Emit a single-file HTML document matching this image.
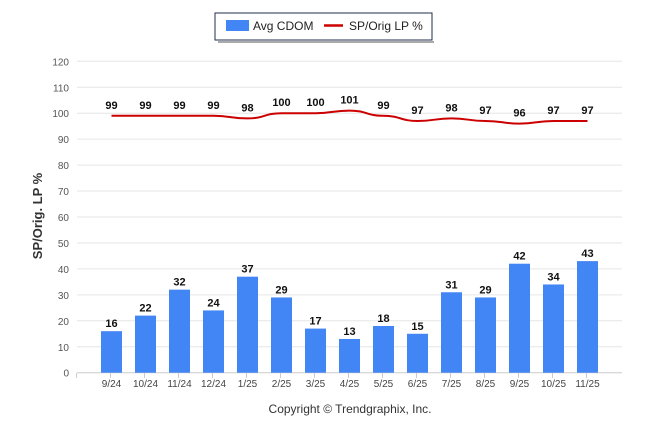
<!DOCTYPE html>
<html><head><meta charset="utf-8"><style>
body{margin:0;background:#fff;font-family:"Liberation Sans",sans-serif;}
svg text{font-family:"Liberation Sans",sans-serif;}
</style></head><body>
<svg id="chart" width="646" height="434">
<rect x="215" y="13" width="217" height="27" fill="#fff" stroke="#1f2d4d" stroke-width="1"/>
<line x1="218" y1="42" x2="434" y2="42" stroke="#aaa" stroke-width="2"/>
<rect x="226" y="20" width="23" height="11" fill="#4285f4"/>
<text x="253" y="30" font-size="12" fill="#222">Avg CDOM</text>
<line x1="324" y1="25.5" x2="343" y2="25.5" stroke="#c00" stroke-width="2.5"/>
<text x="349" y="30" font-size="12" fill="#222">SP/Orig LP %</text>
<text transform="translate(42,216) rotate(-90)" text-anchor="middle" font-size="13" font-weight="bold" fill="#333">SP/Orig. LP %</text>
<text x="350" y="413" text-anchor="middle" font-size="12" fill="#333">Copyright © Trendgraphix, Inc.</text>
<g id="g"></g>
</svg>
<script>
const categories=["9/24","10/24","11/24","12/24","1/25","2/25","3/25","4/25","5/25","6/25","7/25","8/25","9/25","10/25","11/25"];
const cdom=[16,22,32,24,37,29,17,13,18,15,31,29,42,34,43];
const sp=[99,99,99,99,98,100,100,101,99,97,98,97,96,97,97];
const ticks=[0,10,20,30,40,50,60,70,80,90,100,110,120];
const NS="http://www.w3.org/2000/svg";
const g=document.getElementById('g');
const y=v=>372.7-v*(311.4/120);
const x=i=>111.5+34*i;
function mk(t,a){const e=document.createElementNS(NS,t);for(const k in a)e.setAttribute(k,a[k]);g.appendChild(e);return e;}
ticks.forEach(t=>{
 const l=mk('line',{x1:77,x2:622,y1:y(t),y2:y(t),stroke:t==0?'#ccc':'#e6e6e6','stroke-width':1});
 
 
 const tx=mk('text',{x:69,y:y(t)+4,'text-anchor':'end','font-size':10,fill:'#555'});
 tx.textContent=t;
 
 
});
for(let i=0;i<=categories.length;i++){mk('line',{x1:77+34*i-0.5+17-17,x2:77+34*i-0.5,y1:373,y2:378,stroke:'#ccc'});}
categories.forEach((c,i)=>{
 const b=mk('rect',{x:x(i)-10.5,y:y(cdom[i]),width:21,height:y(0)-y(cdom[i]),fill:'#4285f4'});
 
 
 const v=mk('text',{x:x(i),y:y(cdom[i])-4,'text-anchor':'middle','font-size':11,'font-weight':'bold',fill:'#111'});
 v.textContent=cdom[i];
 
 
 const lb=mk('text',{x:x(i),y:387,'text-anchor':'middle','font-size':10,fill:'#444'});
 lb.textContent=c;
 
 
 const sv=mk('text',{x:x(i),y:y(sp[i])-7,'text-anchor':'middle','font-size':11,'font-weight':'bold',fill:'#111'});
 sv.textContent=sp[i];
 
 
});
const pts=sp.map((v,i)=>[x(i),y(v)]);
let d='M'+pts[0].join(',');
for(let i=1;i<pts.length;i++){const p=pts[i-1],q=pts[i],mx=(p[0]+q[0])/2;d+=` C${mx},${p[1]} ${mx},${q[1]} ${q[0]},${q[1]}`;}
const ln=mk('path',{d:d,fill:'none',stroke:'#c00','stroke-width':2});


</script>
</body></html>
